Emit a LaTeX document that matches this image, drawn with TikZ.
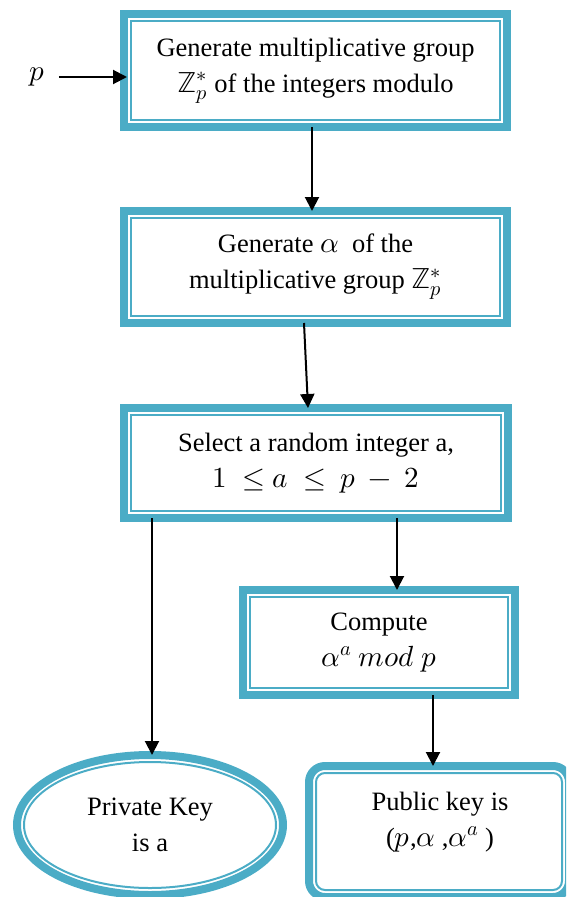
\documentclass[tikz,border=0pt]{standalone}
\usepackage{fontspec}
\usepackage{unicode-math}
\setmainfont{Liberation Serif}
\setmathfont{Latin Modern Math}[Scale=1.1]
\usetikzlibrary{arrows.meta,shapes.geometric}
\definecolor{aqua}{HTML}{4BACC6}
\tikzset{
  band/.style={draw=aqua, line width=8pt, outer sep=0pt, inner sep=0pt, align=center,
    font=\fontsize{26.5}{36}\selectfont},
  stepbox/.style={band, rectangle},
  keyoval/.style={band, ellipse},
  keybox/.style={band, rectangle, rounded corners=16pt},
  rim/.style={draw=aqua, line width=2pt},
  arr/.style={draw=black, line width=2pt, -{Triangle[length=14pt,width=14pt]}},
  words/.style={align=center, inner sep=0pt, font=\fontsize{26.5}{36}\selectfont}
}
\begin{document}
\begin{tikzpicture}[x=1pt,y=-1pt]
  \useasboundingbox (0,0) rectangle (566,897);
  \clip (0,0) rectangle (566,897);

  % process boxes
  \node[stepbox, minimum width=383pt, minimum height=113pt] (b1) at (315.5,70.5)
    {Generate multiplicative group\\ $\mathbb{Z}_p^*$ of the integers modulo};
  \node[stepbox, minimum width=383pt, minimum height=112pt] (b2) at (315.5,267)
    {Generate $\alpha$\ \ of the\\ multiplicative group $\mathbb{Z}_p^*$};
  \node[stepbox, minimum width=384pt, minimum height=110pt] (b3) at (316,463)
    {Select a random integer a,\\ $1\ \le a\ \le\ p\ -\ 2$};
  \node[stepbox, minimum width=272pt, minimum height=105pt] (b4) at (379,642.5)
    {Compute\\ $\alpha^{a}\ mod\ p$};

  % results
  \node[keyoval, minimum width=266pt, minimum height=140pt] (priv) at (150,825)
    {Private Key\\ is a};
  \node[keybox, minimum width=260pt, minimum height=131pt] (pub) at (439,831.5) {};
  \node[words] (pubtxt) at (440,822) {Public key is\\ ($p$,$\alpha$ ,$\alpha^{a}$ )};

  % input
  \node[words] (pin) at (37,77) {$p$};

  % inner rims
  \foreach \n in {b1,b2,b3,b4}
    \draw[rim] ([shift={(7,7)}]\n.north west) rectangle ([shift={(-7,-7)}]\n.south east);
  \draw[rim] (priv.center) ellipse [x radius=126, y radius=63];
  \draw[rim, rounded corners=9pt] ([shift={(7,7)}]pub.north west) rectangle ([shift={(-7,-7)}]pub.south east);

  % connectors
  \draw[arr, shorten <=14pt, shorten >=-3pt] (pin.east) -- (pin.east -| b1.west);
  \draw[arr] ([xshift=-3.5]b1.south) -- ([xshift=-3.5]b2.north);
  \draw[arr] ([xshift=-11.5]b2.south) -- ([xshift=-8]b3.north);
  \draw[arr] ([xshift=81]b3.south) -- ([xshift=18]b4.north);
  \draw[arr] ([xshift=54]b4.south) -- ([xshift=-6]pub.north);
  \draw[arr] ([xshift=-164]b3.south) -- ([xshift=2]priv.north);
\end{tikzpicture}
\end{document}
